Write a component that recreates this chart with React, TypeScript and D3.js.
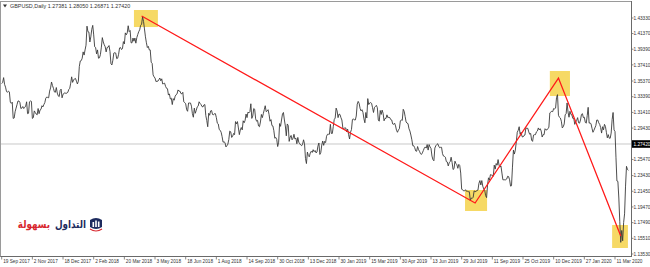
import React, { useEffect } from 'react';
import * as d3 from 'd3';

const W = 650;
const H = 267;

// Daily closes, GBPUSD, one per bar starting 19 Sep 2017
const close2017 = [
  1.3505, 1.3520, 1.3580, 1.3495, 1.3460, 1.3405, 1.3395, 1.3410, 1.3400,
  1.3270, 1.3255, 1.3270, 1.3065, 1.3070, 1.3150, 1.3195, 1.3240, 1.3285, 1.3285, 1.3265, 1.3190, 1.3195, 1.3215, 1.3190, 1.3205, 1.3220, 1.3275, 1.3125, 1.3130, 1.3275, 1.3285,
  1.3280, 1.3065, 1.3075, 1.3160, 1.3140, 1.3120, 1.3110, 1.3190, 1.3125, 1.3170, 1.3180, 1.3225, 1.3210, 1.3240, 1.3265, 1.3320, 1.3335, 1.3330, 1.3325, 1.3410, 1.3450, 1.3525,
  1.3480, 1.3445, 1.3400, 1.3395, 1.3455, 1.3385, 1.3350, 1.3340, 1.3420, 1.3435, 1.3325, 1.3370, 1.3380, 1.3390, 1.3380, 1.3385, 1.3395, 1.3430, 1.3445, 1.3510,
];
const close2018 = [
  1.3590, 1.3520, 1.3550, 1.3565, 1.3570, 1.3535, 1.3500, 1.3535, 1.3720, 1.3790, 1.3795, 1.3825, 1.3905, 1.3865, 1.3930, 1.3990, 1.4230, 1.4160, 1.4155, 1.4030, 1.4095, 1.4190,
  1.4240, 1.4120, 1.3970, 1.3960, 1.3880, 1.3930, 1.3825, 1.3830, 1.3870, 1.3965, 1.4085, 1.4030, 1.3995, 1.3970, 1.3905, 1.3960, 1.3965, 1.3985, 1.3910, 1.3755,
  1.3740, 1.3800, 1.3890, 1.3895, 1.3890, 1.3820, 1.3825, 1.3875, 1.3955, 1.3960, 1.3935, 1.3945, 1.4035, 1.4005, 1.4145, 1.4120, 1.4145, 1.4235, 1.4160, 1.4175, 1.4020, 1.4020,
  1.4080, 1.4040, 1.4080, 1.4015, 1.4085, 1.4125, 1.4160, 1.4185, 1.4240, 1.4255, 1.4350, 1.4290, 1.4195, 1.4095, 1.4020, 1.3960, 1.3975, 1.3930, 1.3930, 1.3775, 1.3760,
  1.3615, 1.3590, 1.3575, 1.3530, 1.3535, 1.3535, 1.3555, 1.3575, 1.3540, 1.3565, 1.3500, 1.3505, 1.3510, 1.3470, 1.3445, 1.3440, 1.3360, 1.3375, 1.3310, 1.3320, 1.3240, 1.3315, 1.3295,
  1.3345, 1.3365, 1.3375, 1.3425, 1.3410, 1.3410, 1.3380, 1.3375, 1.3395, 1.3275, 1.3265, 1.3250, 1.3175, 1.3155, 1.3260, 1.3260, 1.3260, 1.3220, 1.3125, 1.3080, 1.3195,
  1.3130, 1.3165, 1.3210, 1.3220, 1.3275, 1.3255, 1.3240, 1.3215, 1.3210, 1.3235, 1.3240, 1.3100, 1.3040, 1.2960, 1.3130, 1.3105, 1.3160, 1.3165, 1.3115, 1.3110, 1.3125, 1.3125,
  1.3075, 1.3005, 1.2995, 1.2925, 1.2915, 1.2890, 1.2835, 1.2765, 1.2770, 1.2760, 1.2705, 1.2720, 1.2740, 1.2800, 1.2905, 1.2895, 1.2825, 1.2840, 1.2875, 1.2860, 1.3025, 1.2995, 1.3025,
  1.2945, 1.2860, 1.2920, 1.2950, 1.2920, 1.3035, 1.3010, 1.3040, 1.3120, 1.3075, 1.3145, 1.3135, 1.3150, 1.3250, 1.3065, 1.3095, 1.3190, 1.3180, 1.3060, 1.3030,
  1.3040, 1.2970, 1.2960, 1.3020, 1.3115, 1.3075, 1.3125, 1.3175, 1.3225, 1.3150, 1.3160, 1.3175, 1.3115, 1.3030, 1.3050, 1.2975, 1.2970, 1.2910, 1.2815, 1.2825, 1.2800, 1.2710, 1.2765,
  1.3000, 1.2965, 1.3045, 1.3120, 1.3140, 1.3045, 1.2970, 1.2845, 1.2995, 1.2975, 1.2775, 1.2830, 1.2850, 1.2795, 1.2815, 1.2865, 1.2805, 1.2815, 1.2745, 1.2825, 1.2765, 1.2745,
  1.2730, 1.2720, 1.2740, 1.2795, 1.2745, 1.2560, 1.2495, 1.2640, 1.2595, 1.2580, 1.2630, 1.2650, 1.2635, 1.2670, 1.2645, 1.2660, 1.2630, 1.2640, 1.2715, 1.2755,
];
const close2019 = [
  1.2610, 1.2635, 1.2730, 1.2780, 1.2725, 1.2775, 1.2760, 1.2840, 1.2865, 1.2865, 1.2865, 1.2990, 1.2875, 1.2875, 1.2960, 1.3050, 1.3070, 1.3195, 1.3160, 1.3075, 1.3120, 1.3115,
  1.3075, 1.3045, 1.2945, 1.2935, 1.2945, 1.2945, 1.2895, 1.2930, 1.2860, 1.2805, 1.2890, 1.2925, 1.3050, 1.3060, 1.3045, 1.3045, 1.3095, 1.3245, 1.3280, 1.3255,
  1.3190, 1.3160, 1.3175, 1.3140, 1.3060, 1.3010, 1.3140, 1.3070, 1.3315, 1.3240, 1.3260, 1.3265, 1.3255, 1.3200, 1.3140, 1.3205, 1.3215, 1.3230, 1.3200, 1.3045, 1.3030,
  1.3165, 1.3115, 1.3170, 1.3130, 1.3035, 1.3065, 1.3065, 1.3110, 1.3075, 1.3080, 1.3075, 1.3050, 1.3045, 1.2995, 1.2990, 1.3005, 1.2970, 1.2915, 1.2890, 1.2920, 1.2935, 1.3035,
  1.3045, 1.3040, 1.3180, 1.3155, 1.3090, 1.3020, 1.3005, 1.3000, 1.2935, 1.2905, 1.2855, 1.2795, 1.2720, 1.2720, 1.2695, 1.2655, 1.2650, 1.2710, 1.2670, 1.2650, 1.2620, 1.2610, 1.2630,
  1.2660, 1.2690, 1.2705, 1.2690, 1.2735, 1.2665, 1.2735, 1.2705, 1.2685, 1.2590, 1.2545, 1.2530, 1.2690, 1.2720, 1.2735, 1.2745, 1.2715, 1.2695, 1.2700, 1.2700,
  1.2620, 1.2590, 1.2585, 1.2575, 1.2520, 1.2515, 1.2465, 1.2505, 1.2520, 1.2575, 1.2510, 1.2420, 1.2430, 1.2525, 1.2495, 1.2480, 1.2435, 1.2485, 1.2470, 1.2375, 1.2170, 1.2165, 1.2150,
  1.2150, 1.2165, 1.2145, 1.2145, 1.2140, 1.2140, 1.2030, 1.2060, 1.2055, 1.2070, 1.2150, 1.2140, 1.2145, 1.2155, 1.2160, 1.2245, 1.2280, 1.2225, 1.2280, 1.2210, 1.2175, 1.2160,
  1.2090, 1.2065, 1.2225, 1.2315, 1.2285, 1.2355, 1.2350, 1.2350, 1.2335, 1.2475, 1.2425, 1.2495, 1.2475, 1.2545, 1.2475, 1.2450, 1.2465, 1.2375, 1.2290, 1.2290, 1.2290,
  1.2290, 1.2300, 1.2335, 1.2330, 1.2290, 1.2210, 1.2215, 1.2450, 1.2665, 1.2615, 1.2665, 1.2770, 1.2890, 1.2915, 1.2960, 1.2865, 1.2890, 1.2835, 1.2830, 1.2850, 1.2855, 1.2945, 1.2940,
  1.2940, 1.2895, 1.2865, 1.2875, 1.2790, 1.2775, 1.2855, 1.2860, 1.2860, 1.2895, 1.2905, 1.2945, 1.2920, 1.2935, 1.2905, 1.2830, 1.2860, 1.2860, 1.2935, 1.2920, 1.2920,
  1.2935, 1.2955, 1.3135, 1.3145, 1.3155, 1.3150, 1.3190, 1.3185, 1.3195, 1.3330, 1.3365, 1.3105, 1.3080, 1.3070, 1.3030, 1.2945, 1.2960, 1.2995, 1.3110, 1.3125, 1.3260,
];
const close2020 = [
  1.3145, 1.3080, 1.3155, 1.3115, 1.3110, 1.3065, 1.3065, 1.2990, 1.3020, 1.3040, 1.3075, 1.3010, 1.3005, 1.3045, 1.3115, 1.3125, 1.3075, 1.3080, 1.3015, 1.3005, 1.3100, 1.3205,
  1.3005, 1.3010, 1.2995, 1.2940, 1.2890, 1.2915, 1.2945, 1.2975, 1.3045, 1.3045, 1.3010, 1.2990, 1.2950, 1.2880, 1.2960, 1.2920, 1.2990, 1.2965, 1.2890, 1.2820,
  1.2860, 1.2815, 1.2815, 1.2880, 1.3050, 1.3140, 1.2920, 1.2900, 1.2575, 1.2275, 1.2270, 1.2060, 1.1760, 1.1500, 1.1650, 1.1520, 1.1750, 1.1860, 1.2210, 1.2460, 1.2420, 1.2410,
];
const closes = [...close2017, ...close2018, ...close2019, ...close2020];

const xTickLabels = [
  '19 Sep 2017', '2 Nov 2017', '18 Dec 2017', '2 Feb 2018', '20 Mar 2018', '3 May 2018',
  '18 Jun 2018', '1 Aug 2018', '14 Sep 2018', '30 Oct 2018', '13 Dec 2018', '30 Jan 2019',
  '15 Mar 2019', '30 Apr 2019', '13 Jun 2019', '29 Jul 2019', '11 Sep 2019', '25 Oct 2019',
  '10 Dec 2019', '27 Jan 2020', '11 Mar 2020',
];
const barsPerLabel = 32;

const priceLabels = [
  1.4333, 1.4137, 1.3939, 1.3741, 1.3537, 1.3339, 1.3141, 1.2943,
  1.2547, 1.2343, 1.2145, 1.1947, 1.1749, 1.1551, 1.1353,
];
const currentPrice = 1.2742;
const headerText = 'GBPUSD,Daily  1.27381 1.28050 1.26871 1.27420';

// zigzag (bar index, price)
const zigzagBars = [146, 494, 581, 646];
const zigzagPrices = [1.4358, 1.1997, 1.3575, 1.1580];

// highlight boxes
const boxBarStart = [138, 483.5, 572, 637];
const boxBarEnd = [163, 506.5, 593, 653.5];
const boxPriceTop = [1.4434, 1.2161, 1.3664, 1.1719];
const boxPriceBottom = [1.4219, 1.1896, 1.3348, 1.1429];

const logoWord1 = 'التداول';
const logoWord2 = 'بسهولة';

export default function App() {
  useEffect(() => {
    document.body.style.margin = '0';
    document.body.style.background = '#ffffff';
  }, []);

  const plotLeft = 1;
  const plotRight = 631;
  const plotTop = 1.5;
  const plotBottom = 257;

  const x = d3.scaleLinear().domain([0, barsPerLabel * 20]).range([1.7, 615]);
  const y = d3.scaleLinear().domain([1.1353, 1.4333]).range([254, 18]);

  const linePath = d3
    .line<number>()
    .x((_, i) => x(i))
    .y((d) => y(d))(closes) || '';

  const zigzag = d3
    .line<number>()
    .x((d) => x(d))
    .y((_, i) => y(zigzagPrices[i]))(zigzagBars) || '';

  const axisFont = "'Liberation Sans', Arial, sans-serif";
  const logoFont = "'DejaVu Sans', sans-serif";

  return (
    <svg width={W} height={H} style={{ position: 'absolute', left: 0, top: 0, display: 'block' }}>
      <rect x={0} y={0} width={W} height={H} fill="#ffffff" />
      <defs>
        <clipPath id="plotClip">
          <rect x={plotLeft} y={plotTop} width={plotRight - plotLeft} height={plotBottom - plotTop} />
        </clipPath>
      </defs>

      {/* current price line */}
      <line x1={plotLeft} x2={plotRight} y1={y(currentPrice)} y2={y(currentPrice)} stroke="#c8c8c8" strokeWidth={1} />

      <g clipPath="url(#plotClip)">
        {boxBarStart.map((b, i) => (
          <rect
            key={i}
            x={x(b)}
            y={y(boxPriceTop[i])}
            width={x(boxBarEnd[i]) - x(b)}
            height={y(boxPriceBottom[i]) - y(boxPriceTop[i])}
            fill="#f6d965"
          />
        ))}
        <path d={linePath} fill="none" stroke="#3a3a3a" strokeWidth={0.9} strokeLinejoin="round" />
        <path d={zigzag} fill="none" stroke="#ff1a1a" strokeWidth={1.3} />
      </g>

      {/* frame */}
      <line x1={0.5} x2={plotRight} y1={1.5} y2={1.5} stroke="#9a9a9a" strokeWidth={1} />
      <line x1={0.5} x2={0.5} y1={1} y2={plotBottom} stroke="#9a9a9a" strokeWidth={1} />
      <line x1={plotRight + 0.5} x2={plotRight + 0.5} y1={1} y2={plotBottom} stroke="#6a6a6a" strokeWidth={1} />
      <line x1={0.5} x2={plotRight + 0.5} y1={plotBottom - 0.5} y2={plotBottom - 0.5} stroke="#6a6a6a" strokeWidth={1} />

      {/* header */}
      <path d="M3,4.5 L7,4.5 L5,7.5 Z" fill="#333" />
      <text x={10} y={8} fontSize={5.4} fontFamily={axisFont} fill="#333">
        {headerText}
      </text>

      {/* x axis */}
      {xTickLabels.map((t, i) => {
        const xx = x(i * barsPerLabel);
        return (
          <g key={t}>
            <line x1={xx} x2={xx} y1={plotBottom - 0.5} y2={plotBottom + 2.5} stroke="#6a6a6a" strokeWidth={0.8} />
            <text x={xx + 1.5} y={262.5} fontSize={4.7} fontFamily={axisFont} fill="#333">
              {t}
            </text>
          </g>
        );
      })}

      {/* y axis */}
      {priceLabels.map((p) => (
        <g key={p}>
          <line x1={plotRight + 0.5} x2={plotRight + 2.5} y1={y(p)} y2={y(p)} stroke="#6a6a6a" strokeWidth={0.8} />
          <text x={633.5} y={y(p) + 1.7} fontSize={4.7} fontFamily={axisFont} fill="#333">
            {p.toFixed(5)}
          </text>
        </g>
      ))}
      <rect x={632} y={y(currentPrice) - 3.8} width={18} height={7.6} fill="#000" />
      <text x={633.5} y={y(currentPrice) + 1.7} fontSize={4.7} fontFamily={axisFont} fill="#fff">
        {currentPrice.toFixed(5)}
      </text>

      {/* logo */}
      <g>
        <g transform="translate(86,228) scale(0.8,1)">
          <text x={0} y={0} fontSize={11} fontWeight="bold" fontFamily={logoFont} fill="#1d2b5e" textAnchor="end">
            {logoWord1}
          </text>
        </g>
        <g transform="translate(50,228) scale(0.8,1)">
          <text x={0} y={0} fontSize={11} fontWeight="bold" fontFamily={logoFont} fill="#d8262d" textAnchor="end">
            {logoWord2}
          </text>
        </g>
        <g transform="translate(89,217)">
          <path d="M1,3 Q7,-1 13,3 L13,10 Q7,14 1,10 Z" fill="#1d2b5e" />
          <rect x={3.5} y={5} width={1.6} height={5} fill="#fff" />
          <rect x={6.2} y={3.5} width={1.6} height={6.5} fill="#fff" />
          <rect x={8.9} y={4.5} width={1.6} height={5.5} fill="#fff" />
          <path d="M1,12 Q7,16 13,12" fill="none" stroke="#d8262d" strokeWidth={1.2} />
        </g>
      </g>
    </svg>
  );
}
